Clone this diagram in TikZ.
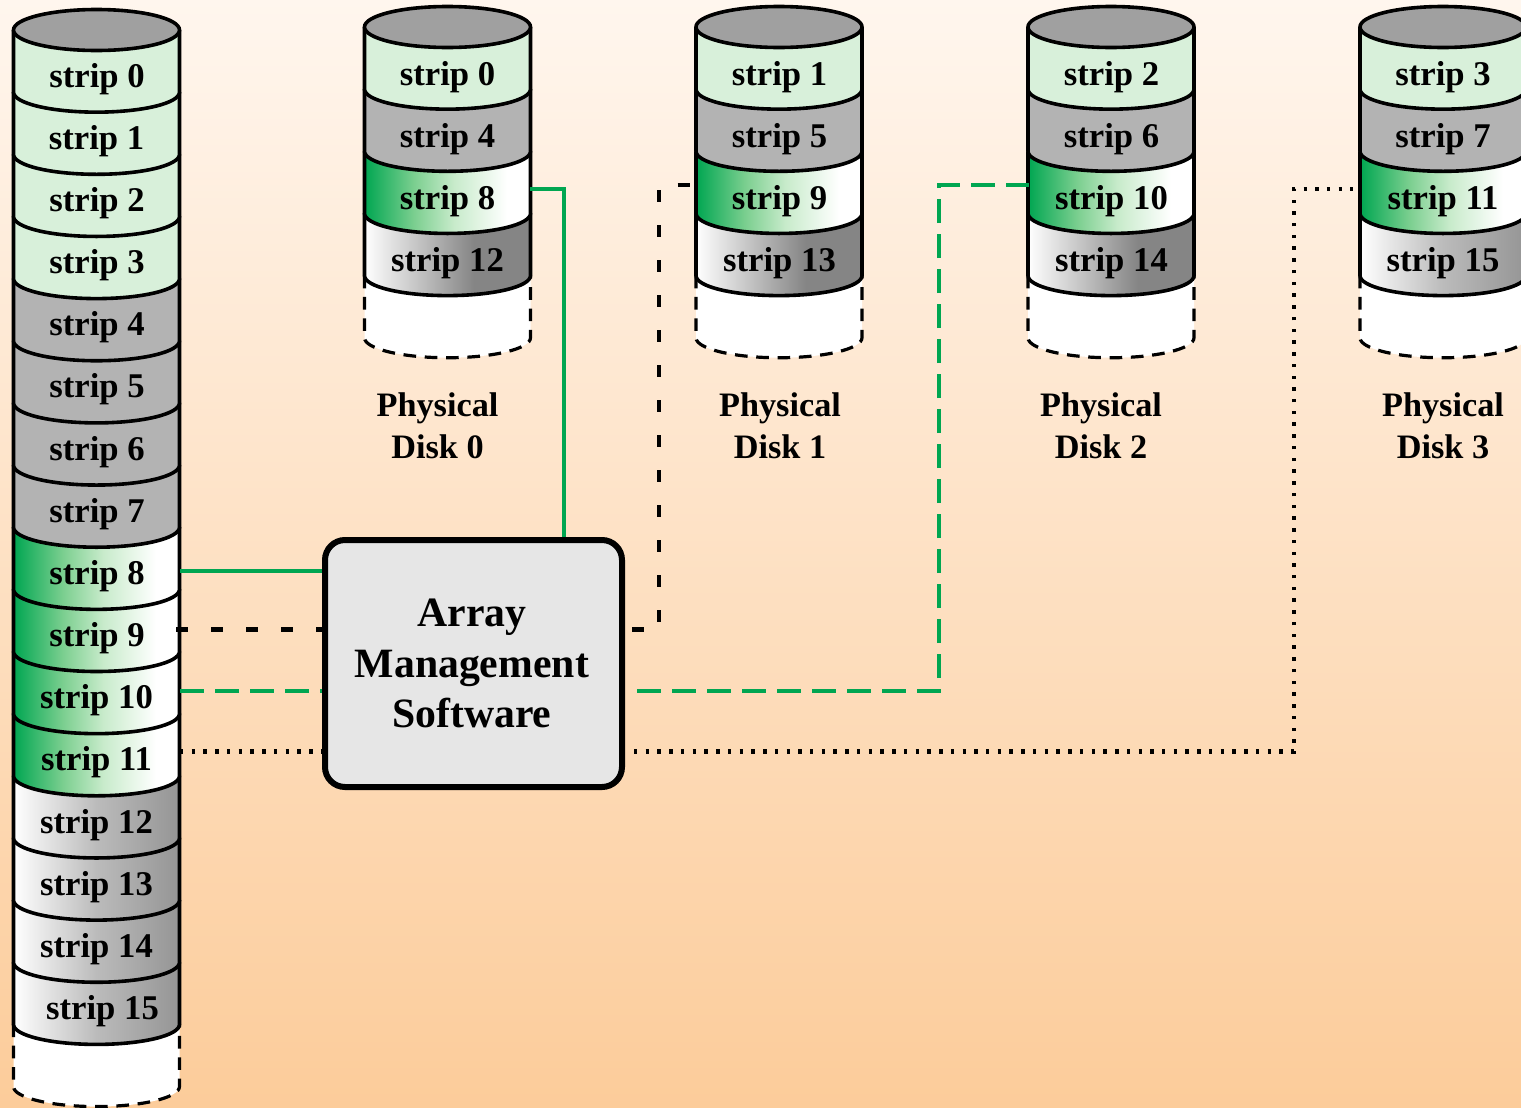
\documentclass[tikz,border=0pt]{standalone}
\usepackage{fontspec}
\setmainfont{Liberation Serif}
\definecolor{raidgreen}{HTML}{00A651}
\definecolor{palegreen}{HTML}{D8F0DA}
\definecolor{midgrey}{HTML}{B3B3B3}
\definecolor{capgrey}{HTML}{A0A0A0}
\definecolor{boxgrey}{HTML}{E6E6E6}
\definecolor{bgtop}{HTML}{FFF6EE}
\definecolor{bgbottom}{HTML}{FCCC9A}
\definecolor{fadeA}{HTML}{7CCF90}
\definecolor{fadeB}{HTML}{C8EBCB}
\definecolor{greymid}{HTML}{BBBBBB}
\definecolor{greyend}{HTML}{959595}
\definecolor{darkend}{HTML}{858585}
\pgfdeclarehorizontalshading{greenfade}{100bp}{color(0bp)=(raidgreen);color(25bp)=(raidgreen);color(40bp)=(fadeA);color(52bp)=(fadeB);color(68bp)=(white);color(100bp)=(white)}
\pgfdeclarehorizontalshading{greyfade}{100bp}{color(0bp)=(white);color(25bp)=(white);color(50bp)=(greymid);color(75bp)=(greyend);color(100bp)=(greyend)}
\pgfdeclarehorizontalshading{darkfade}{100bp}{color(0bp)=(white);color(25bp)=(white);color(58bp)=(darkend);color(100bp)=(darkend)}
\tikzset{
  x=0.75pt,y=-0.75pt,
  stripgreen/.style={fill=palegreen},
  stripgrey/.style={fill=midgrey},
  stripfade/.style={shade,shading=greenfade},
  stripmetal/.style={shade,shading=greyfade},
  stripdark/.style={shade,shading=darkfade},
  stripempty/.style={fill=white,line width=2.4pt,dash pattern=on 9.5pt off 6.5pt},
  outline/.style={draw=black,line width=2.7pt},
  striplabel/.style={font=\fontsize{26}{26}\selectfont\bfseries,anchor=base,inner sep=0pt},
  disklabel/.style={font=\fontsize{25.7}{31.5}\selectfont\bfseries,align=center,inner sep=0pt},
  link/.style={line width=3.3pt},
  linkgreen/.style={link,draw=raidgreen},
  linkgreendash/.style={link,draw=raidgreen,dash pattern=on 18pt off 8.25pt},
  linkdash/.style={link,draw=black,dash pattern=on 9pt off 17.25pt},
  linkdot/.style={link,draw=black,dash pattern=on 2.6pt off 6.2pt},
  manager/.style={draw=black,line width=4.5pt,fill=boxgrey,rounded corners=15pt,minimum width=222.75pt,minimum height=185.25pt,inner sep=0pt,align=center,font=\fontsize{31.3}{38}\selectfont\bfseries}
}
% centre x, y of the top ellipse, index, style
\newcommand\cylband[4]{%
  \pgfmathsetmacro\yt{#2+62.15*#3}%
  \pgfmathsetmacro\ye{\yt+62.15}%
  \path[outline,#4] ({#1-83},\yt) -- ({#1-83},\ye)
    .. controls ({#1-83},{\ye+11}) and ({#1-46},{\ye+20}) .. (#1,{\ye+20})
    .. controls ({#1+46},{\ye+20}) and ({#1+83},{\ye+11}) .. ({#1+83},\ye)
    -- ({#1+83},\yt);
}
\newcommand\diskcol[2]{%
  \foreach \k/\sty in {4/stripempty,3/#2,2/stripfade,1/stripgrey,0/stripgreen}{\cylband{#1}{27}{\k}{\sty}}
  \draw[outline,fill=capgrey] (#1,27) ellipse [x radius=83,y radius=20.5];
}
\begin{document}
\begin{tikzpicture}
\useasboundingbox (0,0) rectangle (1521,1107);
\clip (0,0) rectangle (1521,1107);
\shade[top color=bgtop,bottom color=bgbottom] (0,0) rectangle (1521,1107);

% logical disk
\foreach \k/\sty in {16/stripempty,15/stripmetal,14/stripmetal,13/stripmetal,12/stripmetal,11/stripfade,10/stripfade,9/stripfade,8/stripfade,7/stripgrey,6/stripgrey,5/stripgrey,4/stripgrey,3/stripgreen,2/stripgreen,1/stripgreen,0/stripgreen}{\cylband{96.5}{30}{\k}{\sty}}
\draw[outline,fill=capgrey] (96.5,30) ellipse [x radius=83,y radius=20.5];
\foreach \k/\tx in {0/97,1/96.5,2/97,3/97,4/97,5/97,6/97,7/97,8/97,9/97,10/96.5,11/96.5,12/96.5,13/96.5,14/96.5,15/102.5}{
  \node[striplabel] (L\k) at (\tx,{87.2+62.15*\k}) {strip \k};
}

% physical disks
\diskcol{447.5}{stripdark}
\diskcol{779}{stripdark}
\diskcol{1111}{stripdark}
\diskcol{1443}{stripmetal}
\foreach \k/\r in {0/0,4/1,8/2,12/3}{\node[striplabel] (Pa\k) at (447.5,{85.3+62.2*\r}) {strip \k};}
\foreach \k/\r in {1/0,5/1,9/2,13/3}{\node[striplabel] (Pb\k) at (779.5,{85.3+62.2*\r}) {strip \k};}
\foreach \k/\r in {2/0,6/1,10/2,14/3}{\node[striplabel] (Pc\k) at (1111.5,{85.3+62.2*\r}) {strip \k};}
\foreach \k/\r in {3/0,7/1,11/2,15/3}{\node[striplabel] (Pd\k) at (1443,{85.3+62.2*\r}) {strip \k};}

\node[disklabel] (disk0) at (437.5,425.7) {Physical\\Disk 0};
\node[disklabel] (disk1) at (780,425.7) {Physical\\Disk 1};
\node[disklabel] (disk2) at (1101,425.7) {Physical\\Disk 2};
\node[disklabel] (disk3) at (1443,425.7) {Physical\\Disk 3};

% connector ends
\coordinate (in8) at (180,571);
\coordinate (in9) at (176,629.5);
\coordinate (in10) at (180,691);
\coordinate (in11) at (180,751.5);
\coordinate (out0) at (530,189);
\coordinate (turn0) at (564,189);
\coordinate (out1a) at (632,629.5);
\coordinate (turn1a) at (659,629.5);
\coordinate (turn1b) at (659,185);
\coordinate (end1) at (695,185);
\coordinate (out2a) at (637,691);
\coordinate (turn2a) at (939,691);
\coordinate (turn2b) at (939,185);
\coordinate (end2) at (1029,185);
\coordinate (out3a) at (634,751.5);
\coordinate (turn3a) at (1294,751.5);
\coordinate (turn3b) at (1294,189);
\coordinate (end3) at (1353,189);

\node[manager] (array) at (473.5,663.5) {Array\kern2.5pt\\Management\kern2.5pt\\Software\kern2.5pt};

\draw[linkgreen] (in8) -- (array.west |- in8);
\draw[linkdash] (in9) -- (array.west |- in9);
\draw[linkgreendash] (in10) -- (array.west |- in10);
\draw[linkdot] (in11) -- (array.west |- in11);
\draw[linkgreen] (array.north -| turn0) -- (turn0) -- (out0);
\draw[linkdash] (out1a) -- (turn1a) -- (turn1b) -- (end1);
\draw[linkgreendash] (out2a) -- (turn2a) -- (turn2b) -- (end2);
\draw[linkdot] (out3a) -- (turn3a) -- (turn3b) -- (end3);
\end{tikzpicture}
\end{document}
